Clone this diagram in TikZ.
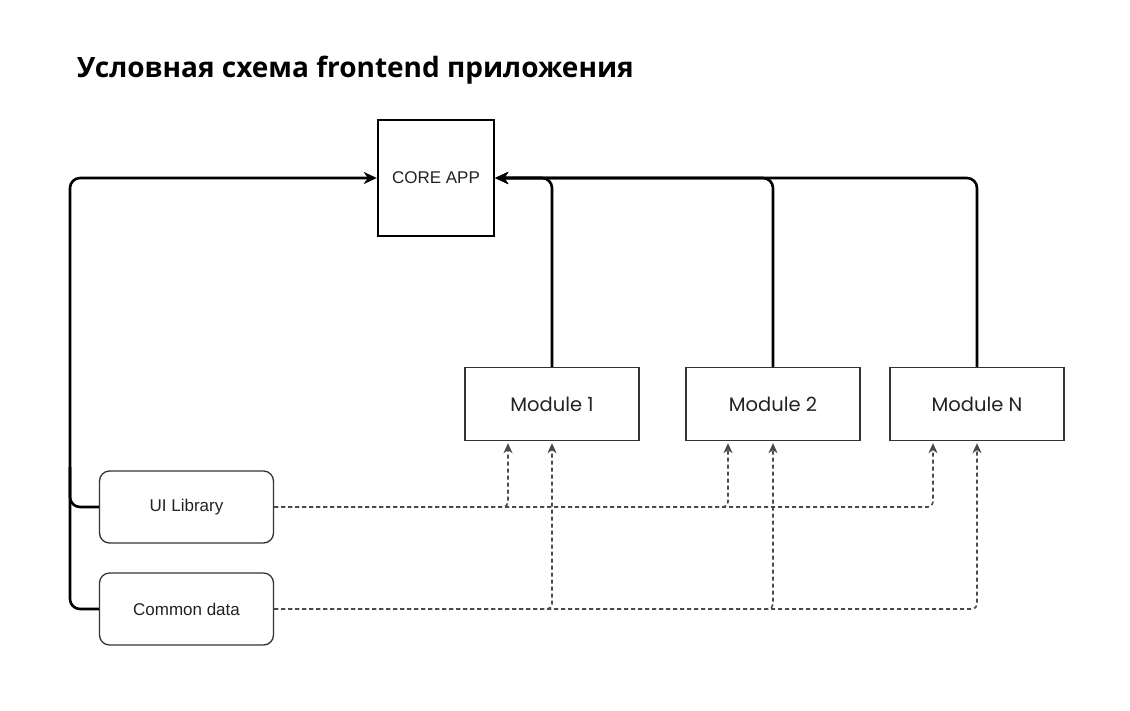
\documentclass[tikz,border=0pt]{standalone}
\usepackage{fontspec}
\setmainfont{Liberation Sans}
\newfontfamily\modfont{Poppins}
\newfontfamily\titlefont{Open Sans}
\usetikzlibrary{arrows.meta}
\definecolor{boxline}{HTML}{333333}
\definecolor{dashline}{HTML}{4A4A4A}
\definecolor{txt}{HTML}{222222}
\begin{document}
\begin{tikzpicture}[x=1pt,y=-1pt,
  corebox/.style={draw=black,line width=2.4pt,minimum width=116pt,minimum height=116pt,inner sep=0pt,
    font=\fontsize{17}{19}\selectfont,text=txt},
  modbox/.style={draw=boxline,line width=1.3pt,minimum width=174pt,minimum height=73pt,inner sep=0pt,
    font=\modfont\fontsize{19.5}{22}\selectfont,text=txt},
  libbox/.style={draw=boxline,line width=1.3pt,rounded corners=10pt,minimum width=174pt,minimum height=72pt,inner sep=0pt,
    font=\fontsize{17}{19}\selectfont,text=txt},
  solidarrow/.style={draw=black,line width=2.6pt,rounded corners=10pt,-{Stealth[length=13pt,width=12pt,inset=4pt]}},
  solidline/.style={draw=black,line width=2.6pt,rounded corners=10pt},
  dasharrow/.style={draw=dashline,line width=1.6pt,dash pattern=on 4pt off 3pt,rounded corners=5pt,
    -{Stealth[length=10pt,width=9pt,inset=3pt]}}
]
\useasboundingbox (0,0) rectangle (1130,710);
\node[anchor=base west,inner sep=0pt,font=\titlefont\bfseries\fontsize{28}{32}\selectfont] (title) at (77,77) {Условная схема frontend приложения};
\node[corebox] (core) at (436,178) {CORE APP};
\node[modbox] (m1) at (552,404) {Module 1};
\node[modbox] (m2) at (773,404) {Module 2};
\node[modbox] (mn) at (977,404) {Module N};
\node[libbox] (ui) at (186.5,507) {UI Library};
\node[libbox] (cd) at (186.5,609) {Common data};
\coordinate (lx) at (70,0);
% left bus
\draw[solidarrow] (cd.west) -- (cd.west -| lx) |- (core.west);
\draw[solidline] (ui.west) -- (ui.west -| lx) -- ([yshift=40pt]ui.west -| lx);
% modules to core
\draw[solidarrow] (mn.north) |- (core.east);
\draw[solidarrow] (m2.north) |- (core.east);
\draw[solidarrow] (m1.north) |- (core.east);
% dashed dependencies
\coordinate (m1a) at ([xshift=-44pt,yshift=-2pt]m1.south);
\coordinate (m2a) at ([xshift=-45pt,yshift=-2pt]m2.south);
\coordinate (mna) at ([xshift=-44pt,yshift=-2pt]mn.south);
\coordinate (m1b) at ([yshift=-2pt]m1.south);
\coordinate (m2b) at ([yshift=-2pt]m2.south);
\coordinate (mnb) at ([yshift=-2pt]mn.south);
\draw[dasharrow] (ui.east) -| (m1a);
\draw[dasharrow] (ui.east) -| (m2a);
\draw[dasharrow] (ui.east) -| (mna);
\draw[dasharrow] (cd.east) -| (m1b);
\draw[dasharrow] (cd.east) -| (m2b);
\draw[dasharrow] (cd.east) -| (mnb);
\end{tikzpicture}
\end{document}
